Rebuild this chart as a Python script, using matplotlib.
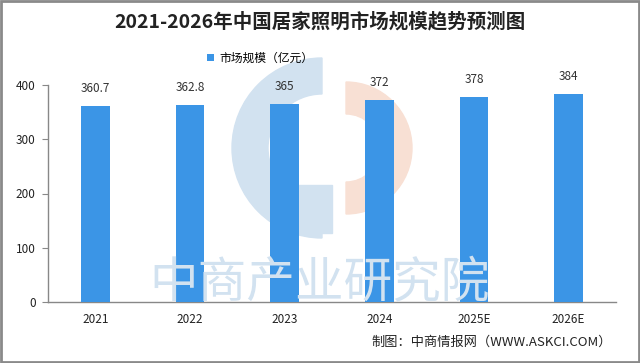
import matplotlib.pyplot as plt
from matplotlib.patches import Wedge, Rectangle
from matplotlib.transforms import Affine2D
import numpy as np

plt.rcParams['font.family'] = ['Noto Sans CJK SC', 'DejaVu Sans']

years = ['2021', '2022', '2023', '2024', '2025E', '2026E']
values = [360.7, 362.8, 365, 372, 378, 384]
value_labels = ['360.7', '362.8', '365', '372', '378', '384']

W, H = 640, 363
fig = plt.figure(figsize=(W / 100, H / 100), dpi=100)

def px(x, y):
    # pixel coords (top-left origin) -> figure fraction
    return x / W, (H - y) / H

def pt(x, y):
    return x, H - y

# watermark logo, drawn in pixel space
blue_wm = '#d2e2f0'
orange_wm = '#f8e0d4'
tr = Affine2D().scale(1 / W, 1 / H) + fig.transFigure
fig.add_artist(Wedge(pt(322, 148), 90, 90, 270, width=36, color=blue_wm,
                     transform=tr, zorder=0))
fig.add_artist(Rectangle(pt(298, 233), 34, 48, color=blue_wm, transform=tr, zorder=0))
fig.add_artist(Wedge(pt(346, 148), 66, -90, 90, width=32, color=orange_wm,
                     transform=tr, zorder=0))

ax = fig.add_axes([48 / W, (H - 302) / H, (616 - 48) / W, 217 / H])
ax.patch.set_alpha(0)

x = np.arange(len(years))
bars = ax.bar(x, values, width=0.3, color='#3b95e6', zorder=3, label='市场规模（亿元）')
for xi, v, lab in zip(x, values, value_labels):
    ax.annotate(lab, (xi, v), xytext=(0, 8), textcoords='offset points',
                ha='center', va='bottom', fontsize=8.5, color='#333333')

ax.set_xlim(-0.5, len(years) - 0.5)
ax.set_ylim(0, 400)
ax.set_yticks([0, 100, 200, 300, 400])
ax.set_xticks(x)
ax.set_xticklabels(years)
ax.tick_params(axis='x', length=0, pad=8, labelsize=8.5, colors='#222222')
ax.tick_params(axis='y', length=4, direction='out', color='#888888', pad=5,
               labelsize=8.5, labelcolor='#222222')
for s in ['top', 'right']:
    ax.spines[s].set_visible(False)
for s in ['left', 'bottom']:
    ax.spines[s].set_color('#888888')
    ax.spines[s].set_linewidth(1)

# watermark text
fig.text(*px(320, 283), '中商产业研究院', fontsize=35, color='#d2e2f0',
         ha='center', va='center', zorder=0)

fig.text(*px(320, 22), '2021-2026年中国居家照明市场规模趋势预测图', fontsize=14,
         fontweight='bold', ha='center', va='center', color='#222222')

fig.legend(handles=[bars], loc='center', bbox_to_anchor=px(260, 58), frameon=False,
           fontsize=8.5, handlelength=0.6, handleheight=0.6, handletextpad=0.4)

fig.text(*px(612, 342), '制图：中商情报网（WWW.ASKCI.COM）', fontsize=9.5,
         ha='right', va='center', color='#222222')

fig.add_artist(Rectangle((0.0015, 0.003), 0.997, 0.994, fill=False, edgecolor='#8a8a8a',
                         linewidth=2, transform=fig.transFigure))

fig.savefig('out.png', dpi=100)
